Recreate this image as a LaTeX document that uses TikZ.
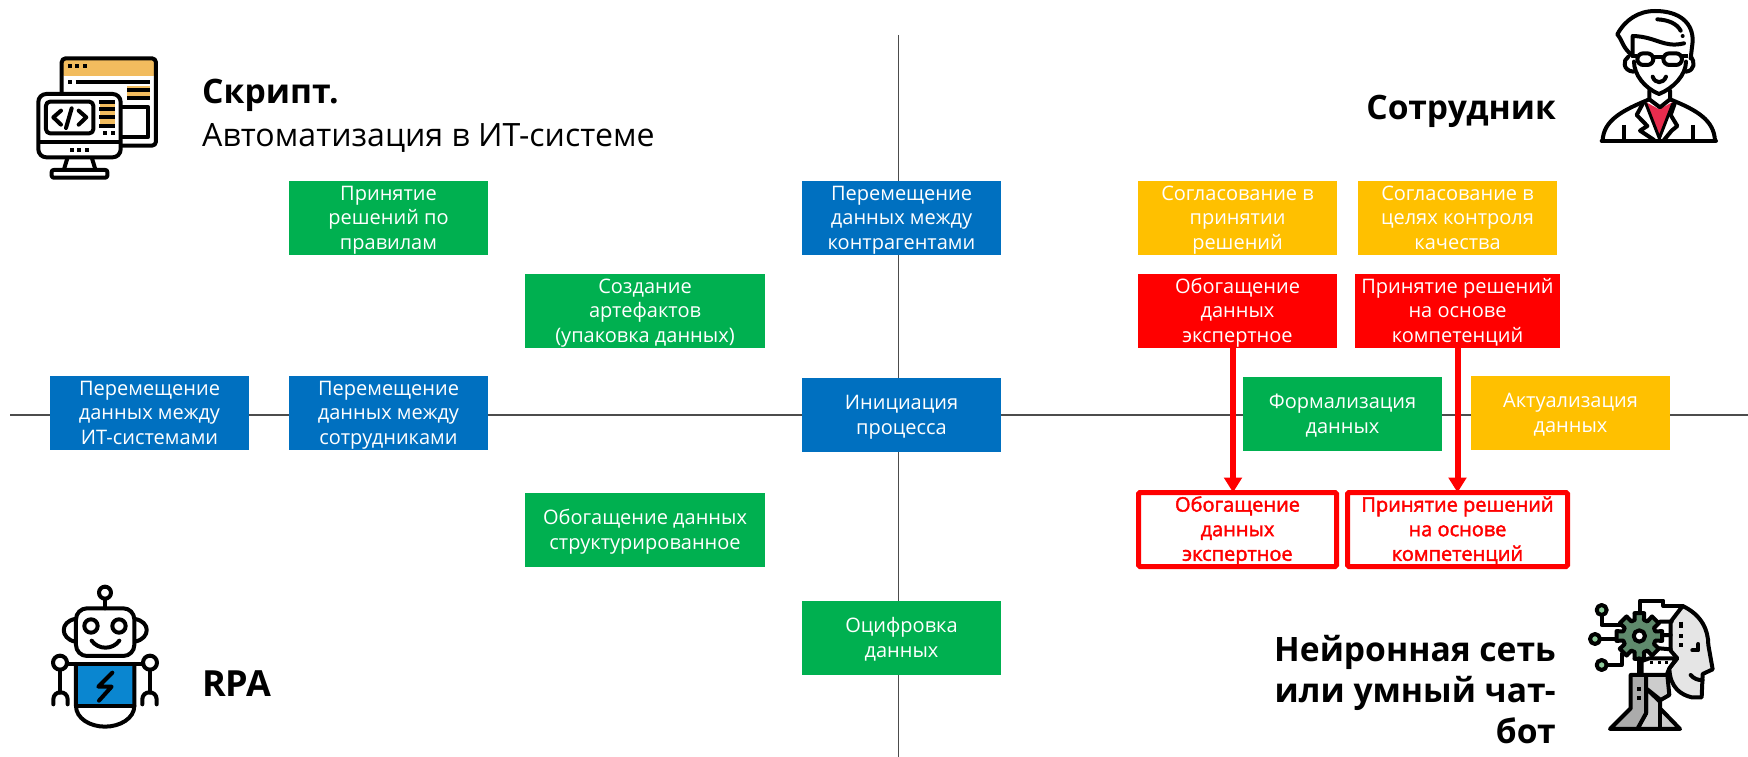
\documentclass[tikz,border=0pt]{standalone}
\usepackage{fontspec}
\setmainfont{Open Sans}
\newfontfamily\fakebold[FakeBold=2]{Open Sans}
\usetikzlibrary{arrows.meta}
\definecolor{cblue}{HTML}{0070C0}
\definecolor{cgreen}{HTML}{00B050}
\definecolor{cyellow}{HTML}{FFC000}
\definecolor{cred}{HTML}{FF0000}
\definecolor{corange}{HTML}{F2BC5E}
\definecolor{ctie}{HTML}{E82C4E}
\definecolor{crobot}{HTML}{0A86D0}
\definecolor{cgear}{HTML}{5F8A6C}
\definecolor{cdot}{HTML}{8FCB9B}
\newcommand{\lowtext}[1]{\raisebox{-1.8pt}[\height][\depth]{\begin{tabular}{@{}c@{}}#1\end{tabular}}}
\tikzset{
  boxtext/.style={minimum height=74pt,inner sep=0pt,align=center,font=\fontsize{20}{24.6}\selectfont},
  boxbase/.style={boxtext,text=white},
  bblue/.style={boxbase,fill=cblue,minimum width=199pt},
  bgreen/.style={boxbase,fill=cgreen,minimum width=199pt},
  bgreenw/.style={boxbase,fill=cgreen,minimum width=240pt},
  byellow/.style={boxbase,fill=cyellow,minimum width=199pt},
  bred/.style={boxbase,fill=cred,minimum width=199pt},
  bredw/.style={boxbase,fill=cred,minimum width=205pt},
  boutline/.style={boxtext,text=cred,draw=cred,fill=white,line width=5pt,rounded corners=1.5pt,font=\fontsize{20}{24.6}\selectfont\fakebold},
  axis/.style={draw=black!70,line width=1.3pt},
  redarrow/.style={draw=cred,line width=6pt,-{Triangle[width=17.5pt,length=15pt]}},
  head/.style={inner sep=0pt,anchor=west,align=left,font=\fontsize{32.1}{40}\selectfont},
  headb/.style={inner sep=0pt,anchor=west,align=left,font=\fontsize{33.7}{40}\selectfont\bfseries},
  headr/.style={inner sep=0pt,anchor=east,align=right,font=\fontsize{33.6}{41}\selectfont\bfseries},
  ico/.style={draw=black,line width=4pt,line join=round,line cap=round},
  icozoom/.style={x=0.3333pt,y=-0.3333pt}
}
\begin{document}
\begin{tikzpicture}[x=1pt,y=-1pt]
\useasboundingbox (0,0) rectangle (1748,757);
\fill[white] (0,0) rectangle (1748,757);
% axes
\coordinate (hl) at (10,415); \coordinate (hr) at (1748,415);
\coordinate (vt) at (898.5,35); \coordinate (vb) at (898.5,757);
\draw[axis] (hl) -- (hr);
\draw[axis] (vt) -- (vb);
% boxes
\node[bgreen] (rules) at (388.5,218) {\lowtext{Принятие\\решений по\\правилам}};
\node[bgreenw] (artef) at (645,311) {\lowtext{Создание\\артефактов\\(упаковка данных)}};
\node[bblue] (contr) at (901.5,218) {\lowtext{Перемещение\\данных между\\контрагентами}};
\node[byellow] (sogl1) at (1237.5,218) {\lowtext{Согласование в\\принятии\\решений}};
\node[byellow] (sogl2) at (1457.5,218) {\lowtext{Согласование в\\целях контроля\\качества}};
\node[bred] (obR) at (1237.5,311) {\lowtext{Обогащение\\данных\\экспертное}};
\node[bredw] (prR) at (1457.5,311) {\lowtext{Принятие решений\\на основе\\компетенций}};
\node[bblue] (it) at (149.5,413) {\lowtext{Перемещение\\данных между\\ИТ-системами}};
\node[bblue] (sotr) at (388.5,413) {\lowtext{Перемещение\\данных между\\сотрудниками}};
\node[bblue] (init) at (901.5,415) {\lowtext{Инициация\\процесса}};
\node[bgreen] (form) at (1342.5,414) {\lowtext{Формализация\\данных}};
\node[byellow] (akt) at (1570.5,413) {\lowtext{Актуализация\\данных}};
\node[bgreenw] (struct) at (645,530) {\lowtext{Обогащение данных\\структурированное}};
\node[bgreen] (ocif) at (901.5,638) {\lowtext{Оцифровка\\данных}};
\node[boutline,minimum width=198pt] (obO) at (1237.5,529.5) {\lowtext{Обогащение\\данных\\экспертное}};
\node[boutline,minimum width=220pt] (prO) at (1457.5,529.5) {\lowtext{Принятие решений\\на основе\\компетенций}};
% arrows
\draw[redarrow] ([xshift=-4.5pt]obR.south) -- ([xshift=-4.5pt,yshift=-2.5pt]obO.north);
\draw[redarrow] (prR.south) -- ([yshift=-2.5pt]prO.north);
% headings
\node[headb] (t1) at (202,95) {Скрипт.};
\node[head] (t2) at (202,137.5) {Автоматизация в ИТ-системе};
\node[headr] (t3) at (1556,111) {Сотрудник};
\node[headb,font=\fontsize{36}{40}\selectfont\bfseries] (t4) at (202,684) {RPA};
\node[headr] (t5) at (1556,690) {Нейронная сеть\\или умный чат-\\бот};
% icon: script
\begin{scope}[shift={(0,0)},icozoom]
  \fill[corange,rounded corners=3pt] (185,175) rectangle (468,228);
  \draw[ico,rounded corners=4pt] (185,275) -- (185,175) -- (468,175) -- (468,437) -- (362,437);
  \fill[corange] (382,258) rectangle (450,298);
  \draw[ico,line cap=butt] (227,246) -- (450,246);
  \draw[ico,line cap=butt] (382,270) -- (450,270) (382,294) -- (450,294);
  \draw[ico,line cap=butt] (362,322) -- (445,322) -- (445,410) -- (362,410);
  \foreach \p in {209,232,256}{\fill (\p-6,192) rectangle (\p+6,204);}
  \fill (203,240) rectangle (215,252);
  \draw[ico,fill=white,rounded corners=8pt] (115,282) rectangle (362,472);
  \draw[ico,rounded corners=4pt] (138,305) rectangle (280,400);
  \fill[corange] (300,305) rectangle (345,385);
  \draw[ico,line cap=butt] (298,305) -- (345,305) (298,328) -- (345,328) (298,352) -- (345,352) (298,378) -- (345,378);
  \fill (309,394) rectangle (321,406);
  \fill (332,394) rectangle (344,406);
  \draw[ico,line cap=butt] (115,425) -- (362,425);
  \foreach \p in {215,238,261}{\fill (\p-6,443) rectangle (\p+6,455);}
  \draw[ico] (183,332) -- (160,352) -- (183,374);
  \draw[ico] (236,332) -- (259,352) -- (236,374);
  \draw[ico] (215,325) -- (198,384);
  \draw[ico,line cap=butt] (202,475) -- (192,508) (276,475) -- (286,508);
  \draw[ico,rounded corners=2pt] (155,533) -- (155,510) -- (322,510) -- (322,533) -- cycle;
\end{scope}
% icon: person
\begin{scope}[shift={(1560,0)},icozoom]
  \fill[ctie] (255,305) -- (298,328) -- (340,305) -- (298,412) -- cycle;
  \draw[ico] (218,168) -- (218,108) .. controls (290,110) and (310,145) .. (372,130);
  \draw[ico] (218,168) .. controls (185,140) and (190,125) .. (172,103) .. controls (195,60) and (235,33) .. (285,33) .. controls (360,33) and (400,70) .. (398,125) -- (392,175);
  \draw[ico] (292,58) .. controls (325,60) and (350,70) .. (362,92);
  \fill (368,108) circle[radius=6];
  \draw[ico] (222,185) .. controls (222,225) and (255,265) .. (297,282) .. controls (340,265) and (378,225) .. (378,185);
  \draw[ico,rounded corners=6pt] (232,160) rectangle (280,195);
  \draw[ico,rounded corners=6pt] (310,160) rectangle (366,195);
  \draw[ico,line cap=butt] (215,168) -- (232,168) (280,170) -- (310,170) (366,168) -- (385,168);
  \draw[ico] (205,170) .. controls (188,180) and (188,212) .. (220,215);
  \draw[ico] (393,170) .. controls (405,185) and (405,212) .. (378,215);
  \draw[ico] (278,230) .. controls (285,252) and (310,252) .. (318,230);
  \draw[ico] (268,272) -- (268,298) -- (300,322) -- (330,298) -- (330,272);
  \draw[ico] (128,422) .. controls (130,360) and (190,330) .. (268,298);
  \draw[ico] (330,298) .. controls (410,330) and (462,360) .. (465,422);
  \draw[ico] (125,422) -- (468,422);
  \draw[ico] (250,308) -- (230,345) -- (262,378) -- (240,392) -- (282,420);
  \draw[ico] (345,308) -- (332,345) -- (352,378) -- (335,392) -- (312,420);
  \draw[ico,line width=3pt] (258,312) -- (298,415) -- (338,312);
  \draw[ico,line cap=butt] (193,375) -- (193,420) (398,375) -- (398,420);
\end{scope}
% icon: robot
\begin{scope}[shift={(20,570)},icozoom]
  \fill[crobot] (168,282) rectangle (343,408);
  \draw[ico] (255,68) circle[radius=18];
  \draw[ico] (255,88) -- (255,115);
  \draw[ico,rounded corners=11pt] (168,115) rectangle (343,258);
  \draw[ico] (213,168) circle[radius=20];
  \draw[ico] (297,168) circle[radius=20];
  \draw[ico] (215,212) .. controls (235,240) and (278,240) .. (298,212);
  \draw[ico] (165,147) .. controls (120,155) and (120,205) .. (165,215);
  \draw[ico] (345,147) .. controls (392,155) and (392,205) .. (345,215);
  \draw[ico] (141,282) -- (370,282);
  \draw[ico] (168,282) -- (168,408) .. controls (168,445) and (210,470) .. (255,470) .. controls (300,470) and (343,445) .. (343,408) -- (343,282);
  \draw[ico] (168,408) -- (343,408);
  \draw[ico] (120,278) circle[radius=21];
  \draw[ico] (390,278) circle[radius=21];
  \draw[ico] (120,300) -- (120,368);
  \draw[ico] (390,300) -- (390,368);
  \draw[ico] (100,403) -- (100,388) .. controls (100,360) and (143,360) .. (143,388) -- (143,403);
  \draw[ico] (367,403) -- (367,388) .. controls (367,360) and (410,360) .. (410,388) -- (410,403);
  \draw[ico] (277,308) -- (235,350) -- (275,350) -- (237,392);
\end{scope}
% icon: AI head
\begin{scope}[shift={(1560,580)},icozoom]
  \draw[ico,fill=black!10] (368,78) .. controls (425,105) and (445,150) .. (445,195) -- (458,268) -- (428,282) -- (425,352) -- (395,352) .. controls (365,345) and (330,325) .. (328,265) -- (352,235) -- (332,212) -- (332,125) -- cycle;
  \draw[ico,line cap=butt] (362,125) -- (362,145) (362,162) -- (362,175) (362,190) -- (362,200);
  \draw[ico] (397,211) -- (415,211) -- (415,192);
  \draw[ico] (392,285) .. controls (400,295) and (415,302) .. (428,300);
  \draw[ico] (240,100) -- (240,62) -- (310,62) -- (310,78) -- (368,78);
  \draw[ico] (300,125) -- (335,125) (305,165) -- (332,165) (298,205) -- (332,208);
  \draw[ico] (125,105) -- (125,135) -- (185,135);
  \draw[ico] (120,177) -- (180,177);
  \draw[ico] (140,255) -- (185,255) -- (185,222);
  \draw[ico,fill=cdot] (125,90) circle[radius=15];
  \draw[ico,fill=cdot] (105,177) circle[radius=15];
  \draw[ico,fill=cdot] (125,255) circle[radius=15];
  \draw[ico,fill=white] (245,285) -- (245,243) -- (268,235) -- (350,235) -- (328,265) -- (320,285);
  \foreach \p in {275,298,320}{\fill (\p-5,243) rectangle (\p+5,253);}
  \begin{scope}[shift={(238,168)}]
    \draw[ico,fill=cgear] (-12:70) \foreach \a in {0,45,...,315}{ -- (\a-12:70) -- (\a+12:70) -- (\a+16:50) -- (\a+29:50) } -- cycle;
    \draw[ico,fill=white] (0,0) circle[radius=17];
  \end{scope}
  \draw[ico] (238,235) -- (238,285);
  \draw[ico,fill=black!20] (258,400) -- (232,447) -- (360,447) -- (300,385) -- (300,365) -- (258,325) -- cycle;
  \draw[ico,fill=black!33] (212,385) -- (212,285) -- (258,285) -- (258,400) -- (232,447) -- (150,447) -- cycle;
  \draw[ico,fill=black!20] (258,285) -- (258,325) -- (302,360) -- (328,345) -- (322,285) -- cycle;
  \draw[ico,line cap=butt] (300,365) -- (300,447);
  \fill (231,322) rectangle (243,334);
  \fill (231,347) rectangle (243,359);
\end{scope}
\end{tikzpicture}
\end{document}
